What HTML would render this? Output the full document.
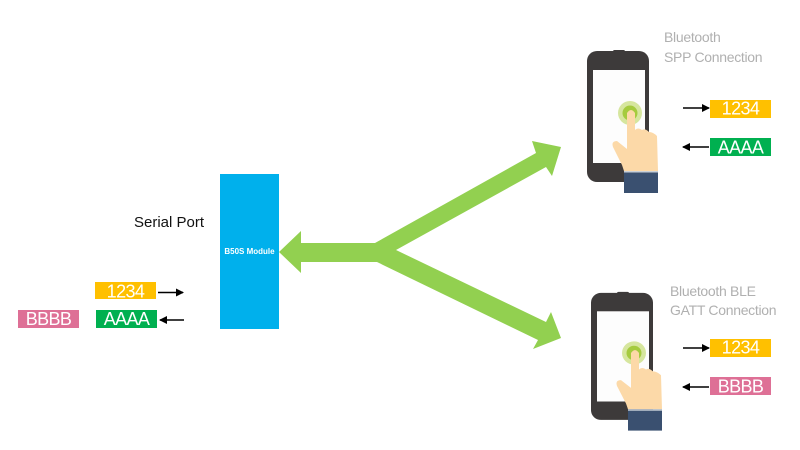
<!DOCTYPE html>
<html><head><meta charset="utf-8"><style>
html,body{margin:0;padding:0;background:#fff;}
svg{display:block;}
text{font-family:"Liberation Sans",Arial,sans-serif;}
</style></head><body>
<svg width="800" height="450" viewBox="0 0 800 450" xmlns="http://www.w3.org/2000/svg">
<defs>
<marker id="ah" markerWidth="8" markerHeight="8" refX="7" refY="4" orient="auto" markerUnits="userSpaceOnUse">
<path d="M0,0 L8,4 L0,8 Z" fill="#000"/>
</marker>
<g id="phone">
<rect x="-43" y="-62" width="62" height="131" rx="10" fill="#3d3a3a"/>
<rect x="-17" y="-63" width="12" height="3" rx="1.5" fill="#3d3a3a"/>
<rect x="-37" y="-43" width="52" height="93" fill="#fdfdfd"/>
<circle cx="0" cy="0" r="12" fill="#d6e69e"/>
<circle cx="0" cy="0" r="7.5" fill="#a5cb3e"/>
<path d="M-3,0 Q1,-6 5,0 L5,17 Q8,14 12,17 Q15,15 19,19 Q23,19 27,23 L28,58 L-6,58 L-8,52 L-17,34 Q-19,28 -13,28 L-3,36 Z" fill="#fcd9a8"/>
<rect x="-6" y="58" width="34" height="22" fill="#3a5070"/>
<rect x="-6" y="58" width="34" height="1.5" fill="#c9d0d8"/>
</g>
</defs>

<!-- Green arrows -->
<polygon points="279,252 301,231 301,243 375,243 536,153 532,141 561,147 552,176 546,167 396,250 546,322 551,312 561,338 533,349 538,340 377,262 301,262 301,273" fill="#92d050"/>

<!-- Module -->
<rect x="220" y="174" width="59" height="155" fill="#00b0ec"/>
<text x="249.5" y="254" font-size="8" font-weight="bold" fill="#fff" text-anchor="middle">B50S Module</text>

<text x="134" y="227" font-size="15" fill="#111">Serial Port</text>

<!-- Left boxes -->
<rect x="95" y="282" width="61" height="17" fill="#ffc000"/>
<text x="125.5" y="297.5" font-size="18" letter-spacing="-0.6" fill="#fff" text-anchor="middle">1234</text>
<line x1="158" y1="292.5" x2="183" y2="292.5" stroke="#000" stroke-width="1.6" marker-end="url(#ah)"/>

<rect x="96" y="310" width="61" height="18" fill="#00b050"/>
<text x="126.5" y="325" font-size="18" letter-spacing="-0.6" fill="#fff" text-anchor="middle">AAAA</text>
<line x1="184" y1="320" x2="160" y2="320" stroke="#000" stroke-width="1.6" marker-end="url(#ah)"/>

<rect x="18" y="310" width="61" height="18" fill="#de7096"/>
<text x="48.5" y="325" font-size="18" letter-spacing="-0.6" fill="#fff" text-anchor="middle">BBBB</text>

<!-- Top phone -->
<use href="#phone" transform="translate(630,113)"/>
<text x="664" y="42" font-size="14" fill="#b0b0b0" letter-spacing="-0.3">Bluetooth</text>
<text x="664" y="62" font-size="14" fill="#b0b0b0" letter-spacing="-0.3">SPP Connection</text>

<rect x="710" y="100" width="61" height="18" fill="#ffc000"/>
<text x="740.5" y="114.5" font-size="18" letter-spacing="-0.6" fill="#fff" text-anchor="middle">1234</text>
<line x1="683" y1="108" x2="709" y2="108" stroke="#000" stroke-width="1.6" marker-end="url(#ah)"/>

<rect x="710" y="138" width="61" height="18" fill="#00b050"/>
<text x="740.5" y="153.5" font-size="18" letter-spacing="-0.6" fill="#fff" text-anchor="middle">AAAA</text>
<line x1="709" y1="147" x2="683" y2="147" stroke="#000" stroke-width="1.6" marker-end="url(#ah)"/>

<!-- Bottom phone -->
<use href="#phone" transform="translate(634,353) scale(1,0.97)"/>
<text x="670" y="296" font-size="14" fill="#b0b0b0" letter-spacing="-0.3">Bluetooth BLE</text>
<text x="670" y="315" font-size="14" fill="#b0b0b0" letter-spacing="-0.3">GATT Connection</text>

<rect x="710" y="339" width="61" height="18" fill="#ffc000"/>
<text x="740.5" y="353.5" font-size="18" letter-spacing="-0.6" fill="#fff" text-anchor="middle">1234</text>
<line x1="683" y1="348" x2="709" y2="348" stroke="#000" stroke-width="1.6" marker-end="url(#ah)"/>

<rect x="710" y="377" width="61" height="18" fill="#de7096"/>
<text x="740.5" y="392.5" font-size="18" letter-spacing="-0.6" fill="#fff" text-anchor="middle">BBBB</text>
<line x1="709" y1="387" x2="683" y2="387" stroke="#000" stroke-width="1.6" marker-end="url(#ah)"/>
</svg>
</body></html>
